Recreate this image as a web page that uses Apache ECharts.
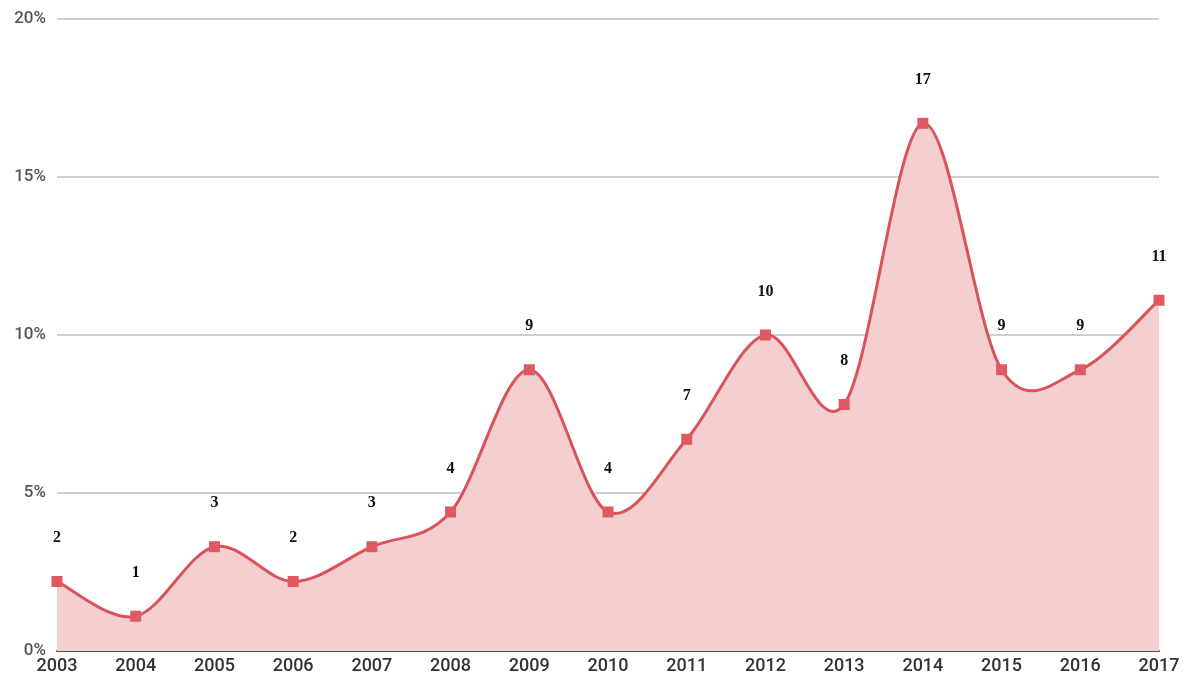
<!DOCTYPE html>
<html>
<head>
<meta charset="utf-8">
<script src="https://cdn.jsdelivr.net/npm/echarts@6/dist/echarts.min.js"></script>
<style>
  html, body { margin: 0; padding: 0; background: #fff; }
  #main { width: 1186px; height: 686px; }
</style>
</head>
<body>
<div id="main"></div>
<script>
var years = ['2003', '2004', '2005', '2006', '2007', '2008', '2009', '2010',
  '2011', '2012', '2013', '2014', '2015', '2016', '2017'];
// share per year, in percent
var shares = [2.2, 1.1, 3.3, 2.2, 3.3, 4.4, 8.9, 4.4, 6.7, 10.0, 7.8, 16.7, 8.9, 8.9, 11.1];
var yTicks = [0, 5, 10, 15, 20];

var myChart = echarts.init(document.getElementById('main'));

// catmull-rom curve through all points, like the spreadsheet's smooth line
function renderCurve(params, api) {
  if (params.dataIndex !== 0) return null;
  var pts = shares.map(function (v, i) { return api.coord([i, v]); });
  var d = 'M' + pts[0][0] + ',' + pts[0][1];
  for (var i = 0; i < pts.length - 1; i++) {
    var p0 = pts[Math.max(i - 1, 0)], p1 = pts[i], p2 = pts[i + 1];
    var p3 = pts[Math.min(i + 2, pts.length - 1)];
    var c1x = p1[0] + (p2[0] - p0[0]) / 6, c1y = p1[1] + (p2[1] - p0[1]) / 6;
    var c2x = p2[0] - (p3[0] - p1[0]) / 6, c2y = p2[1] - (p3[1] - p1[1]) / 6;
    d += ' C' + c1x + ',' + c1y + ' ' + c2x + ',' + c2y + ' ' + p2[0] + ',' + p2[1];
  }
  var base0 = api.coord([0, 0]), base1 = api.coord([pts.length - 1, 0]);
  var area = d + ' L' + base1[0] + ',' + base1[1] + ' L' + base0[0] + ',' + base0[1] + ' Z';
  return {
    type: 'group',
    children: [
      { type: 'path', shape: { pathData: area }, style: { fill: '#f5cfcf', stroke: null } },
      { type: 'path', shape: { pathData: d }, style: { fill: null, stroke: '#d9535a', lineWidth: 3 } }
    ]
  };
}

var option = {
  animation: false,
  grid: { left: 57, right: 27, top: 19, bottom: 35 },
  xAxis: {
    type: 'category',
    data: years,
    boundaryGap: false,
    axisTick: { show: false },
    axisLine: { lineStyle: { color: '#5a4a48', width: 2 } },
    axisLabel: { color: '#333', fontSize: 18, fontWeight: 500, margin: 6, fontFamily: 'Roboto' }
  },
  yAxis: {
    type: 'value',
    min: yTicks[0],
    max: yTicks[yTicks.length - 1],
    interval: 5,
    axisLine: { show: false },
    axisTick: { show: false },
    axisLabel: { color: '#555', fontSize: 17, fontWeight: 500, margin: 11, fontFamily: 'Roboto', formatter: '{value}%' },
    splitLine: { lineStyle: { color: '#cfcfcf', width: 2 } }
  },
  series: [{
    type: 'custom',
    renderItem: renderCurve,
    data: shares,
    silent: true,
    z: 1
  }, {
    type: 'line',
    data: shares,
    symbol: 'rect',
    symbolSize: 11,
    showAllSymbol: true,
    lineStyle: { width: 0, opacity: 0 },
    itemStyle: { color: '#de5a60' },
    z: 3,
    label: {
      show: true,
      position: 'top',
      distance: 30,
      color: '#111',
      fontSize: 16,
      fontWeight: 'bold',
      fontFamily: 'Liberation Serif',
      formatter: function (p) { return Math.round(p.value); }
    }
  }]
};

myChart.setOption(option);
</script>
</body>
</html>
